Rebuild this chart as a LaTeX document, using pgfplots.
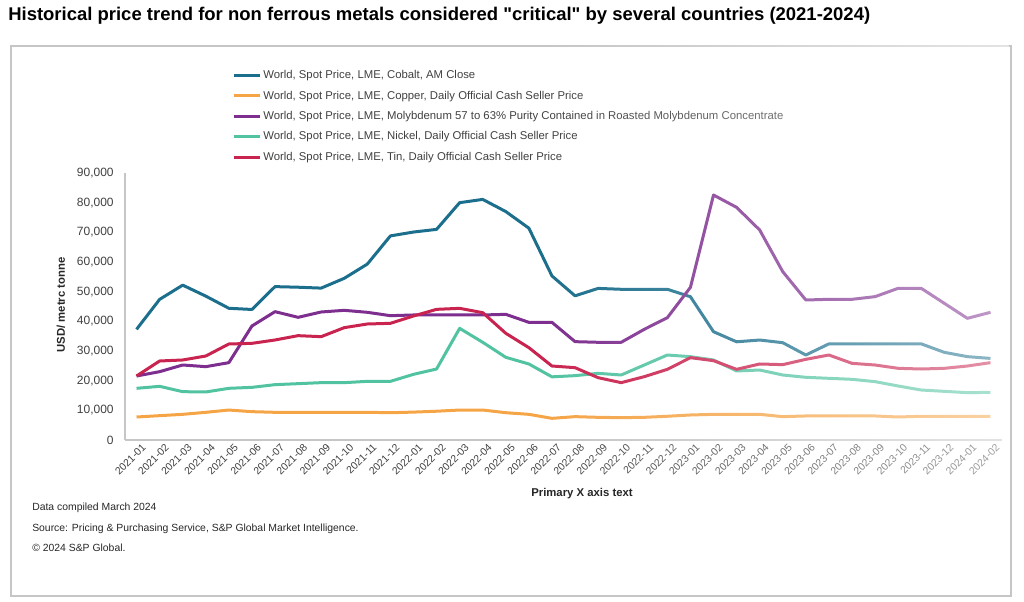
\documentclass[border=0pt]{standalone}
\usepackage{pgfplots}
\pgfplotsset{compat=1.18}
\usepackage{pgfplotstable}
\usetikzlibrary{fadings}
\usepackage{fontspec}
\setmainfont{Liberation Sans}[Ligatures=TeXOff]
\definecolor{cobalt}{HTML}{1B6E8C}
\definecolor{copper}{HTML}{F5A446}
\definecolor{moly}{HTML}{7D2E8E}
\definecolor{nickel}{HTML}{52C3A1}
\definecolor{tin}{HTML}{C9234F}
\definecolor{txt}{HTML}{404040}
\tikzfading[name=rightfade, left color=transparent!100, right color=transparent!48]

\pgfplotstableread{
i cobalt copper moly nickel tin
0 37300 7750 21570 17420 21570
1 47400 8200 23030 18090 26630
2 52200 8650 25280 16290 26970
3 48500 9330 24720 16180 28310
4 44400 10100 26070 17420 32360
5 44000 9550 38430 17750 32580
6 51700 9330 43260 18650 33710
7 51500 9330 41350 18990 35170
8 51200 9330 43150 19330 34830
9 54500 9330 43710 19330 37870
10 59300 9330 43040 19770 39100
11 68800 9200 41910 19770 39330
12 70100 9400 42140 22130 41800
13 71000 9700 42140 23930 44040
14 80000 10100 42140 37640 44380
15 81100 10100 42140 32930 42920
16 77000 9200 42360 27870 35960
17 71400 8650 39660 25620 31120
18 55300 7300 39660 21290 24940
19 48600 7870 33150 21690 24380
20 51100 7640 32930 22470 21010
21 50800 7530 32930 21910 19330
22 50800 7640 37310 25280 21350
23 50800 8000 41240 28650 23820
24 48300 8430 51460 28090 27750
25 36500 8650 82580 26970 26740
26 33100 8650 78420 23260 23820
27 33700 8650 70790 23590 25620
28 32800 7870 56740 21910 25400
29 28650 8100 47190 21130 27190
30 32400 8100 47420 20790 28650
31 32400 8100 47420 20450 25840
32 32400 8100 48320 19670 25280
33 32400 7750 51130 18200 24160
34 32400 8000 51130 16850 23930
35 29550 8000 46070 16400 24160
36 28100 8000 41010 15950 24940
37 27500 8000 43040 16060 26070
}\datatable

\begin{document}
\begin{tikzpicture}
\useasboundingbox (0,0) rectangle (768pt,451.5pt);
\draw[gray!45, line width=0.8pt] (8.25pt,4.5pt) rectangle (758.25pt,417pt);
\node[anchor=base west, inner sep=0pt] at (6pt,435.75pt)
  {\resizebox{646.5pt}{10pt}{\bfseries Historical price trend for non ferrous metals considered "critical" by several countries (2021-2024)}};
\begin{axis}[
  at={(93.75pt,121.5pt)}, anchor=south west,
  scale only axis, width=657.75pt, height=200.25pt,
  xmin=-0.5, xmax=37.5, ymin=0, ymax=90000,
  axis x line*=bottom, axis y line*=left,
  axis line style={gray!45, line width=1pt, -},
  major tick length=0pt,
  xtick={0,...,37},
  xticklabels={2021-01,2021-02,2021-03,2021-04,2021-05,2021-06,2021-07,2021-08,2021-09,2021-10,2021-11,2021-12,
    2022-01,2022-02,2022-03,2022-04,2022-05,2022-06,2022-07,2022-08,2022-09,2022-10,2022-11,2022-12,
    2023-01,2023-02,2023-03,2023-04,2023-05,2023-06,2023-07,2023-08,2023-09,2023-10,2023-11,2023-12,
    2024-01,2024-02},
  x tick label style={rotate=45, anchor=north east, font=\fontsize{7.8}{9}\selectfont, text=txt, inner sep=1pt, yshift=-3pt, xshift=2pt},
  ytick={0,10000,...,90000},
  scaled y ticks=false,
  y tick label style={font=\fontsize{9}{10}\selectfont, text=txt, xshift=-5pt},
  /pgf/number format/.cd, fixed, 1000 sep={,}, assume math mode=true, /pgfplots/.cd,
  legend cell align=left,
  legend style={at={(0.122,1.393)}, anchor=north west, draw=none, fill=none,
    font=\fontsize{8.5}{10}\selectfont, text=txt, row sep=4.7pt, inner sep=0pt,
    nodes={inner sep=1.5pt}},
  legend image code/.code={\draw[#1, line width=2.25pt] (0pt,0pt) -- (19.5pt,0pt);},
  every axis plot/.append style={line width=2.25pt, no markers, line join=round},
]
\addplot[cobalt] table[x=i, y=cobalt] {\datatable};
\addlegendentry{World, Spot Price, LME, Cobalt, AM Close}
\addplot[copper] table[x=i, y=copper] {\datatable};
\addlegendentry{World, Spot Price, LME, Copper, Daily Official Cash Seller Price}
\addplot[moly] table[x=i, y=moly] {\datatable};
\addlegendentry{World, Spot Price, LME, Molybdenum 57 to 63\% Purity Contained in Roasted Molybdenum Concentrate}
\addplot[nickel] table[x=i, y=nickel] {\datatable};
\addlegendentry{World, Spot Price, LME, Nickel, Daily Official Cash Seller Price}
\addplot[tin] table[x=i, y=tin] {\datatable};
\addlegendentry{World, Spot Price, LME, Tin, Daily Official Cash Seller Price}
\end{axis}
\fill[white, path fading=rightfade, fit fading=true] (405pt,90pt) rectangle (757pt,418pt);
\node[font=\bfseries\fontsize{8.5}{10}\selectfont, text=black!85] at (436.5pt,81pt) {Primary X axis text};
\node[font=\bfseries\fontsize{8.5}{10}\selectfont, text=black!85, rotate=90] at (45.75pt,222.75pt) {USD/ metrc tonne};
\node[anchor=base west, inner sep=0pt, font=\fontsize{7.8}{9}\selectfont, text=black!85] at (24pt,68.25pt) {Data compiled March 2024};
\node[anchor=base west, inner sep=0pt, font=\fontsize{7.8}{9}\selectfont, text=black!85] at (24pt,52.5pt) {Source: Pricing \& Purchasing Service, S\&P Global Market Intelligence.};
\node[anchor=base west, inner sep=0pt, font=\fontsize{7.8}{9}\selectfont, text=black!85] at (24pt,37.5pt) {© 2024 S\&P Global.};
\end{tikzpicture}
\end{document}
